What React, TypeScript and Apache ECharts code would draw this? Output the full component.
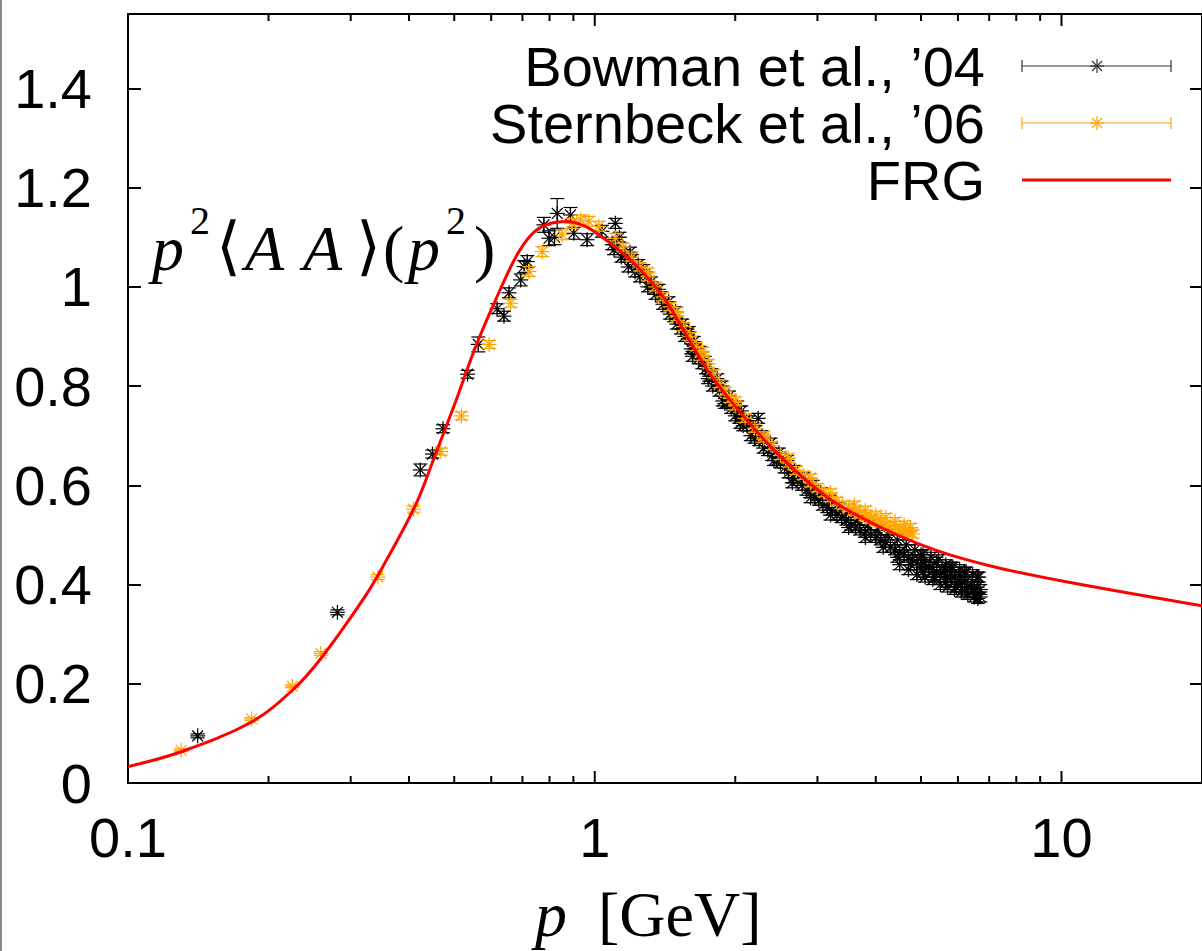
import React, { useEffect, useRef } from "react";
import * as echarts from "echarts";

// ---------- data ----------
// Bowman et al. '04 : [p (GeV), p^2 D(p^2), error]
const bowmanLow: number[][] = [
  [0.141, 0.095, 0.004], [0.281, 0.344, 0.005], [0.423, 0.631, 0.012], [0.449, 0.663, 0.008],
  [0.473, 0.714, 0.008], [0.534, 0.824, 0.008], [0.563, 0.884, 0.015], [0.618, 0.956, 0.01],
  [0.639, 0.941, 0.01], [0.655, 0.988, 0.01], [0.694, 1.014, 0.012], [0.706, 1.041, 0.012],
  [0.717, 1.051, 0.012], [0.778, 1.125, 0.015], [0.798, 1.098, 0.015], [0.82, 1.1, 0.015],
  [0.831, 1.148, 0.03], [0.887, 1.145, 0.015], [0.902, 1.108, 0.012], [0.963, 1.095, 0.012],
  [1.036, 1.112, 0.012], [1.09, 1.085, 0.01], [1.107, 1.128, 0.01],
];
const bowmanBandP: number[] = [
  1.10, 1.12, 1.14, 1.16, 1.18, 1.20, 1.22, 1.25, 1.27, 1.30, 1.32, 1.35, 1.37, 1.40, 1.43, 1.45,
  1.48, 1.50, 1.53, 1.56, 1.58, 1.61, 1.64, 1.67, 1.70, 1.73, 1.76, 1.79, 1.82, 1.85, 1.88, 1.92,
  1.96, 2.00, 2.04, 2.08, 2.12, 2.16, 2.24, 2.25, 2.30, 2.35, 2.40, 2.45, 2.50, 2.55, 2.60, 2.66,
  2.72, 2.78, 2.84, 2.90, 2.96, 3.02, 3.08, 3.15, 3.22, 3.30, 3.38, 3.46, 3.54, 3.62, 3.70, 3.80,
  3.90, 4.00, 4.10, 4.20, 4.30, 4.40, 4.50, 4.60, 4.70, 4.80, 4.90, 5.00, 5.10, 5.20, 5.30, 5.40,
  5.50, 5.60, 5.70, 5.80, 5.90, 6.00, 6.10, 6.20, 6.30, 6.40, 6.50, 6.60, 6.70,
  4.50, 4.70, 4.90, 5.10, 5.30, 5.50, 5.70, 5.90, 6.10, 6.30, 6.50, 6.70,
  5.00, 5.40, 5.80, 6.20, 6.60, 6.45, 6.05, 5.65,
];
const bowmanBandV: number[] = [
  1.075, 1.09, 1.06, 1.065, 1.04, 1.055, 1.03, 1.02, 1.035, 1.0, 1.01, 0.985, 0.995, 0.965, 0.96, 0.945,
  0.94, 0.925, 0.915, 0.9, 0.905, 0.875, 0.875, 0.855, 0.845, 0.835, 0.82, 0.8, 0.805, 0.79, 0.77, 0.765,
  0.755, 0.74, 0.735, 0.72, 0.72, 0.7, 0.735, 0.69, 0.675, 0.67, 0.66, 0.65, 0.645, 0.635, 0.625, 0.615,
  0.61, 0.6, 0.59, 0.585, 0.575, 0.57, 0.56, 0.555, 0.55, 0.54, 0.535, 0.53, 0.52, 0.515, 0.51, 0.505,
  0.5, 0.495, 0.49, 0.485, 0.475, 0.47, 0.465, 0.46, 0.455, 0.45, 0.445, 0.44, 0.44, 0.435, 0.43, 0.425,
  0.42, 0.425, 0.415, 0.41, 0.415, 0.405, 0.4, 0.405, 0.395, 0.4, 0.39, 0.395, 0.39,
  0.44, 0.43, 0.42, 0.415, 0.41, 0.4, 0.395, 0.39, 0.385, 0.38, 0.375, 0.375,
  0.46, 0.445, 0.435, 0.425, 0.415, 0.385, 0.42, 0.43,
];
const bowmanBand2P: number[] = [
  1.13, 1.19, 1.24, 1.29, 1.34, 1.39, 1.44, 1.49, 1.54, 1.59, 1.63, 1.68, 1.72, 1.78, 1.83, 1.87,
  1.94, 2.02, 2.06, 2.14, 2.21, 2.28, 2.38, 2.48, 2.58, 2.68, 2.80, 2.93, 3.05, 3.18, 3.34, 3.50,
  3.66, 3.85, 4.05, 4.25, 4.45, 4.65, 4.85, 5.05, 5.25, 5.45, 5.65, 5.85, 6.05, 6.25, 6.45, 6.65,
  1.62, 1.75, 1.90, 2.05, 2.20, 2.42, 2.65, 2.90, 3.20, 3.50, 3.80, 4.15, 4.45, 4.75, 5.05, 5.35,
  5.65, 5.95, 6.25, 6.55, 6.62,
];
const bowmanBand2V: number[] = [
  1.10, 1.07, 1.045, 1.02, 0.995, 0.98, 0.97, 0.95, 0.925, 0.91, 0.89, 0.87, 0.85, 0.825, 0.815, 0.80,
  0.78, 0.76, 0.75, 0.73, 0.71, 0.70, 0.685, 0.665, 0.65, 0.63, 0.615, 0.60, 0.585, 0.57, 0.555, 0.545,
  0.53, 0.52, 0.51, 0.50, 0.49, 0.48, 0.47, 0.46, 0.455, 0.45, 0.44, 0.435, 0.43, 0.425, 0.42, 0.415,
  0.86, 0.815, 0.765, 0.725, 0.695, 0.65, 0.605, 0.575, 0.54, 0.515, 0.495, 0.475, 0.455, 0.44, 0.425, 0.415,
  0.405, 0.395, 0.385, 0.38, 0.372,
];
const bandErr = 0.01;

// Sternbeck et al. '06
const sternLow: number[][] = [
  [0.13, 0.066, 0.003], [0.184, 0.129, 0.003], [0.225, 0.195, 0.003], [0.259, 0.261, 0.004],
  [0.343, 0.415, 0.005], [0.409, 0.552, 0.006], [0.468, 0.668, 0.007], [0.518, 0.74, 0.008],
  [0.594, 0.884, 0.008], [0.66, 0.967, 0.008], [0.723, 1.031, 0.01], [0.772, 1.071, 0.01],
  [0.851, 1.105, 0.01], [0.893, 1.128, 0.01], [0.932, 1.135, 0.01], [0.971, 1.132, 0.01],
  [1.02, 1.122, 0.01], [1.107, 1.098, 0.01],
];
const sternBandP: number[] = [
  1.15, 1.2, 1.25, 1.3, 1.35, 1.4, 1.45, 1.5, 1.55, 1.6, 1.65, 1.7, 1.75, 1.8, 1.85, 1.9, 1.95, 2.0,
  2.1, 2.2, 2.3, 2.4, 2.5, 2.6, 2.7, 2.8, 2.9, 3.0, 3.1, 3.2, 3.3, 3.4, 3.5, 3.6, 3.7, 3.8, 3.9, 4.0,
  4.1, 4.2, 4.3, 4.4, 4.5, 4.6, 4.7, 4.8,
  3.6, 3.8, 4.0, 4.2, 4.4, 4.6, 4.75, 2.0, 2.3, 2.6, 2.9, 3.2, 1.3, 1.5, 1.7,
];
const sternBandV: number[] = [
  1.08, 1.06, 1.04, 1.02, 1.0, 0.98, 0.96, 0.94, 0.92, 0.9, 0.88, 0.86, 0.845, 0.825, 0.805, 0.79, 0.775, 0.76,
  0.735, 0.715, 0.695, 0.68, 0.66, 0.645, 0.63, 0.62, 0.605, 0.595, 0.585, 0.575, 0.568, 0.56, 0.555, 0.548, 0.542, 0.537, 0.532, 0.528,
  0.525, 0.52, 0.517, 0.513, 0.51, 0.507, 0.505, 0.502,
  0.56, 0.55, 0.54, 0.535, 0.527, 0.52, 0.515, 0.77, 0.70, 0.655, 0.615, 0.585, 1.03, 0.95, 0.87,
];

// FRG curve
const frgP: number[] = [
  0.1, 0.13, 0.184, 0.225, 0.259, 0.32, 0.351, 0.414, 0.456, 0.504, 0.556, 0.614, 0.688, 0.759,
  0.865, 0.955, 1.09, 1.242, 1.416, 1.614, 1.811, 2.393, 3.16, 4.11, 5.43, 7.3, 10.3, 20,
];
const frgV: number[] = [
  0.033, 0.063, 0.123, 0.187, 0.251, 0.372, 0.435, 0.562, 0.663, 0.77, 0.88, 0.975, 1.071, 1.118,
  1.132, 1.122, 1.085, 1.038, 0.974, 0.884, 0.81, 0.676, 0.575, 0.515, 0.468, 0.434, 0.405, 0.357,
];

const xMin = 0.1;
const xMax = 20;
const yMin = 0;
const yMax = 1.55;
const yStep = 0.2;
const majorTicks: number[] = [0.1, 1, 10];
const minorTicks: number[] = [0.2, 0.3, 0.4, 0.5, 0.6, 0.7, 0.8, 0.9, 2, 3, 4, 5, 6, 7, 8, 9];

const legendNames = ["Bowman et al., \u201904", "Sternbeck et al., \u201906", "FRG"];

const SANS = "'Liberation Sans', Arial, Helvetica, sans-serif";
const SERIF = "'Liberation Serif', 'DejaVu Serif', 'Times New Roman', serif";

function starPoints(cx: number, cy: number, r: number, stroke: string, lw: number) {
  const d = r * 0.72;
  const mk = (x1: number, y1: number, x2: number, y2: number) => ({
    type: "line",
    shape: { x1, y1, x2, y2 },
    style: { stroke, lineWidth: lw },
  });
  return [
    mk(cx - r, cy, cx + r, cy),
    mk(cx, cy - r, cx, cy + r),
    mk(cx - d, cy - d, cx + d, cy + d),
    mk(cx - d, cy + d, cx + d, cy - d),
  ];
}

function errRender(color: string, lw: number) {
  return (params: any, api: any) => {
    const p = api.value(0);
    const v = api.value(1);
    const e = api.value(2);
    const c = api.coord([p, v]);
    const t = api.coord([p, v + e]);
    const b = api.coord([p, v - e]);
    const cap = 7;
    const mk = (x1: number, y1: number, x2: number, y2: number) => ({
      type: "line",
      shape: { x1, y1, x2, y2 },
      style: { stroke: color, lineWidth: lw },
    });
    return {
      type: "group",
      children: [
        mk(c[0], t[1], c[0], b[1]),
        mk(c[0] - cap, t[1], c[0] + cap, t[1]),
        mk(c[0] - cap, b[1], c[0] + cap, b[1]),
        ...starPoints(c[0], c[1], 7.5, color, lw),
      ],
    };
  };
}

export default function App() {
  const ref = useRef<HTMLDivElement>(null);
  useEffect(() => {
    document.body.style.margin = "0";
    document.body.style.overflow = "hidden";
    if (!ref.current) return;
    const chart = echarts.init(ref.current, null, { renderer: "svg" });

    const bowmanData = [
      ...bowmanLow,
      ...bowmanBandP.map((p, i) => [p, bowmanBandV[i], bandErr]),
      ...bowmanBand2P.map((p, i) => [p, bowmanBand2V[i], bandErr]),
    ];
    const sternData = [
      ...sternLow,
      ...sternBandP.map((p, i) => [p, sternBandV[i], bandErr * 0.8]),
    ];
    const frgData = frgP.map((p, i) => [p, frgV[i]]);

    const axisLineStyle = { color: "#000", width: 2 };
    const legendRows = [66, 123, 180];
    const lx1 = 1022;
    const lx2 = 1171;
    const lmid = 1097;
    const legendBar = (y: number, color: string) => [
      { type: "line", shape: { x1: lx1, y1: y, x2: lx2, y2: y }, style: { stroke: color, lineWidth: 1.2 } },
      { type: "line", shape: { x1: lx1, y1: y - 6, x2: lx1, y2: y + 6 }, style: { stroke: color, lineWidth: 1.2 } },
      { type: "line", shape: { x1: lx2, y1: y - 6, x2: lx2, y2: y + 6 }, style: { stroke: color, lineWidth: 1.2 } },
      ...starPoints(lmid, y, 7, color, 1.2),
    ];
    const txt = (x: number, y: number, s: string, size: number, italic: boolean) => ({
      type: "text",
      x,
      y,
      z: 100,
      style: {
        text: s,
        fontFamily: SERIF,
        fontSize: size,
        fontStyle: italic ? "italic" : "normal",
        fill: "#000",
        align: "left",
        verticalAlign: "middle",
      },
    });

    const graphicEls: any[] = [
      { type: "rect", shape: { x: 0, y: 0, width: 2, height: 951 }, style: { fill: "#8a8a8a" }, z: 100 },
      {
        type: "text",
        x: 985,
        y: legendRows[0],
        style: { text: legendNames[0], font: `56px ${SANS}`, fill: "#000", align: "right", verticalAlign: "middle" },
        z: 100,
      },
      {
        type: "text",
        x: 985,
        y: legendRows[1],
        style: { text: legendNames[1], font: `56px ${SANS}`, fill: "#000", align: "right", verticalAlign: "middle" },
        z: 100,
      },
      {
        type: "text",
        x: 985,
        y: legendRows[2],
        style: { text: legendNames[2], font: `56px ${SANS}`, fill: "#000", align: "right", verticalAlign: "middle" },
        z: 100,
      },
      { type: "group", z: 100, children: legendBar(legendRows[0], "#333") },
      { type: "group", z: 100, children: legendBar(legendRows[1], "#FFA500") },
      {
        type: "line",
        z: 100,
        shape: { x1: lx1, y1: legendRows[2], x2: lx2, y2: legendRows[2] },
        style: { stroke: "#FF0000", lineWidth: 3 },
      },
      // y-label p^2 <A A>(p^2)
      txt(152, 248, "p", 64, true),
      txt(190, 220, "2", 40, false),
      txt(216, 246, "\u27E8", 64, false),
      txt(245, 248, "A", 64, true),
      txt(303, 248, "A", 64, true),
      txt(356, 246, "\u27E9", 64, false),
      txt(383, 248, "(", 64, false),
      txt(408, 248, "p", 64, true),
      txt(446, 220, "2", 40, false),
      txt(474, 248, ")", 64, false),
      // x-label p [GeV]
      txt(535, 914, "p", 64, true),
      txt(598, 914, "[GeV]", 64, false),
    ];

    chart.setOption({
      animation: false,
      backgroundColor: "#fff",
      grid: { left: 128, top: 14, right: -3, bottom: 168, containLabel: false },
      xAxis: [
        {
          type: "log",
          logBase: 10,
          min: xMin,
          max: xMax,
          position: "bottom",
          axisLine: { show: true, onZero: false, lineStyle: axisLineStyle },
          axisTick: { show: false },
          axisLabel: {
            show: true,
            margin: 26,
            fontSize: 56,
            color: "#000",
            fontFamily: SANS,
            showMaxLabel: false,
          },
          splitLine: { show: false },
        },
        {
          type: "log",
          logBase: 10,
          min: xMin,
          max: xMax,
          position: "top",
          axisLine: { show: true, onZero: false, lineStyle: axisLineStyle },
          axisTick: { show: false },
          axisLabel: { show: false },
          splitLine: { show: false },
        },
      ],
      yAxis: [
        {
          type: "value",
          min: yMin,
          max: yMax,
          interval: yStep,
          position: "left",
          axisLine: { show: true, onZero: false, lineStyle: axisLineStyle },
          axisTick: { show: true, inside: true, length: 13, lineStyle: { color: "#000", width: 2 } },
          axisLabel: { show: true, margin: 36, fontSize: 56, color: "#000", fontFamily: SANS, showMaxLabel: false },
          splitLine: { show: false },
        },
        {
          type: "value",
          min: yMin,
          max: yMax,
          interval: yStep,
          position: "right",
          axisLine: { show: true, onZero: false, lineStyle: axisLineStyle },
          axisTick: { show: true, inside: true, length: 12, lineStyle: { color: "#000", width: 2 } },
          axisLabel: { show: false },
          splitLine: { show: false },
        },
      ],
      series: [
        {
          type: "custom",
          name: legendNames[0],
          xAxisIndex: 0,
          yAxisIndex: 0,
          clip: true,
          data: bowmanData,
          renderItem: errRender("#000", 1.2),
          z: 2,
        },
        {
          type: "custom",
          name: legendNames[1],
          xAxisIndex: 0,
          yAxisIndex: 0,
          clip: true,
          data: sternData,
          renderItem: errRender("#FFA500", 1.2),
          z: 3,
        },
        {
          type: "line",
          name: legendNames[2],
          xAxisIndex: 0,
          yAxisIndex: 0,
          data: frgData,
          smooth: 0.35,
          showSymbol: false,
          symbol: "none",
          clip: true,
          lineStyle: { color: "#FF0000", width: 3 },
          z: 4,
        },
      ],
      graphic: graphicEls,
    });

    // x-axis ticks (major + minor, bottom and top), placed through the axis scale
    const tickEls: any[] = [];
    const addTicks = (vals: number[], len: number) => {
      vals.forEach((v) => {
        const b = chart.convertToPixel({ xAxisIndex: 0, yAxisIndex: 0 }, [v, yMin]) as number[];
        const t = chart.convertToPixel({ xAxisIndex: 0, yAxisIndex: 0 }, [v, yMax]) as number[];
        if (!b || !t) return;
        tickEls.push({
          type: "line",
          shape: { x1: b[0], y1: b[1], x2: b[0], y2: b[1] - len },
          style: { stroke: "#000", lineWidth: 2 },
        });
        tickEls.push({
          type: "line",
          shape: { x1: t[0], y1: t[1], x2: t[0], y2: t[1] + len },
          style: { stroke: "#000", lineWidth: 2 },
        });
      });
    };
    addTicks(majorTicks, 12);
    addTicks(minorTicks, 7);
    chart.setOption({ graphic: [...graphicEls, { type: "group", z: 50, children: tickEls }] });

    return () => chart.dispose();
  }, []);
  return <div ref={ref} style={{ width: 1202, height: 951 }} />;
}
